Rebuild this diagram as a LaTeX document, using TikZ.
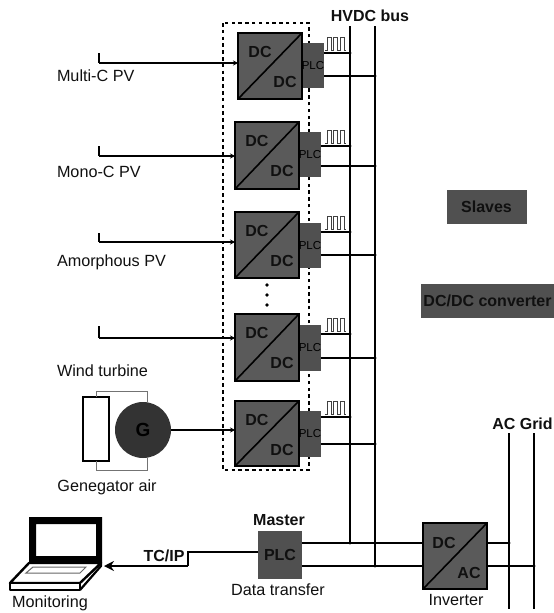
\documentclass[tikz,border=0pt]{standalone}
\usepackage{fontspec}
\setmainfont{Liberation Sans}
\usetikzlibrary{arrows.meta}
\definecolor{boxfill}{HTML}{5A5A5A}
\definecolor{plcfill}{HTML}{505050}
\definecolor{ink}{HTML}{101010}
\tikzset{
  lab/.style={font=\fontsize{16.2}{18}\selectfont,text=ink,inner sep=0pt,outer sep=0pt},
  blab/.style={font=\fontsize{16}{18}\selectfont\bfseries,text=ink,inner sep=0pt,outer sep=0pt},
  plclab/.style={font=\fontsize{11.5}{12}\selectfont,text=black,inner sep=0pt,outer sep=0pt},
  conv/.style={draw=black,line width=2.2pt,fill=boxfill,inner sep=0pt,outer sep=0pt,anchor=north west,minimum width=64pt},
  plcbox/.style={fill=plcfill,inner sep=0pt,outer sep=0pt,anchor=north west,minimum width=22pt},
  solid box/.style={fill=plcfill,inner sep=0pt,outer sep=0pt},
  wire/.style={line width=1.5pt,black},
  bus/.style={line width=1.7pt,black},
  thinwire/.style={line width=0.9pt,black!55},
  wave/.style={line width=0.8pt,black!75,line join=miter},
  tap/.style={fill=black},
  feed/.style={line width=1.4pt,black,-{Stealth[length=5pt,width=5pt]}},
  dotted frame/.style={line width=1.8pt,black,dash pattern=on 3.5pt off 3.3pt},
}
\begin{document}
\begin{tikzpicture}[x=1pt,y=-1pt]
\useasboundingbox (0,0) rectangle (554,613);
% dashed frame
\draw[dotted frame] (223,23) rectangle (309,470);
% buses
\coordinate (busA) at (350,26);
\coordinate (busB) at (375,26);
\coordinate (busAend) at (350,543);
\coordinate (busBend) at (375,566);
\draw[bus] (busA) -- (busAend);
\draw[bus] (busB) -- (busBend);
\coordinate (gridA) at (509,433);
\coordinate (gridB) at (534,433);
\coordinate (gridAend) at (509,609);
\coordinate (gridBend) at (534,609);
\draw[bus] (gridA) -- (gridAend);
\draw[bus] (gridB) -- (gridBend);
% converter rows: index / left / top / height / plc top / plc height / tap1 / tap2 / input
\foreach \i/\xl/\yt/\hh/\pt/\ph/\ta/\tb/\inp in {
  1/238/33/66/43/45/53/76/63,
  2/235/122/67/132/45/146/166/156,
  3/235/212/66/223/45/232/255/242,
  4/235/314/67/325/46/334/358/338,
  5/235/401/65/411/46/417/444/430}{
  \node[plcbox,minimum height=\ph pt] (p\i) at ({\xl+64},\pt) {};
  \node[conv,minimum height=\hh pt] (b\i) at (\xl,\yt) {};
  \draw[line width=1.6pt,black] (b\i.south west) -- (b\i.north east);
  \node[blab] (du\i) at ({\xl+22},{\yt+19}) {DC};
  \node[blab] (dl\i) at ({\xl+47},{\yt+49}) {DC};
  \node[plclab] (pl\i) at (p\i.center) {PLC};
  \coordinate (ta\i) at (350,\ta);
  \coordinate (tb\i) at (375,\tb);
  \draw[wire] (p\i.east |- ta\i) -- (ta\i);
  \draw[wire] (p\i.east |- tb\i) -- (tb\i);
  \fill[tap] (ta\i) circle (1.6pt);
  \fill[tap] (tb\i) circle (1.6pt);
  \draw[wave] (325,{\ta-3}) -- ++(2,0) -- ++(0,-13) -- ++(4,0) -- ++(0,13) -- ++(2.5,0) -- ++(0,-13) -- ++(4,0) -- ++(0,13) -- ++(2.5,0) -- ++(0,-13) -- ++(4,0) -- ++(0,13) -- ++(2,0);
}
% PV inputs
\foreach \i/\st/\inp in {1/53/63,2/146/156,3/233/242,4/326/338}{
  \coordinate (s\i) at (99,\st);
  \coordinate (k\i) at (99,\inp);
  \draw[wire] (s\i) -- (k\i);
  \draw[feed] (k\i) -- (k\i -| b\i.west);
}
% dots
\foreach \yy/\n in {285/v1,295/v2,305/v3}{\fill[black] (267,\yy) circle (1.8pt) coordinate (\n);}
% labels PV
\node[lab,anchor=west] (lm) at (57,76) {Multi-C PV};
\node[lab,anchor=west] (lc) at (57,172) {Mono-C PV};
\node[lab,anchor=west] (la) at (57,262) {Amorphous PV};
\node[lab,anchor=west] (lw) at (57,371) {Wind turbine};
\node[lab] (lg) at (107,487) {Genegator air};
% wind turbine
\node[draw=black,line width=2pt,fill=white,minimum width=26pt,minimum height=64pt,inner sep=0pt,outer sep=0pt] (rotor) at (96,429) {};
\node[circle,fill=black!80,minimum size=56pt,inner sep=0pt,outer sep=0pt] (g) at (143,430) {};
\node[font=\fontsize{19}{20}\selectfont\bfseries,text=black,inner sep=0pt] (gl) at (g.center) {G};
\draw[thinwire] (rotor.north) -- ++(0,-6) -| ([xshift=4pt]g.north);
\draw[thinwire] (rotor.south) -- ++(0,9) -| ([xshift=4pt]g.south);
\draw[feed] (g.east) -- (g.east -| b5.west);
% legend boxes
\node[solid box,minimum width=80pt,minimum height=34pt] (slaves) at (486.5,207) {};
\node[blab] (slavesl) at (slaves.center) {Slaves};
\node[solid box,minimum width=133pt,minimum height=34pt] (dcdc) at (487.5,301) {};
\node[blab] (dcdcl) at (dcdc.center) {DC/DC converter};
% titles
\node[blab] (hv) at (370,16) {HVDC bus};
\node[blab] (acg) at (522.5,424) {AC Grid};
% master
\node[solid box,minimum width=44pt,minimum height=48pt] (master) at (280,555) {};
\node[blab] (masterl) at (master.center) {PLC};
\node[blab] (mt) at (279,520) {Master};
\node[lab] (dt) at (278,590) {Data transfer};
% inverter
\node[conv,minimum height=66pt] (inv) at (423,523) {};
\draw[line width=1.6pt,black] (inv.south west) -- (inv.north east);
\node[blab] (invu) at (444,543) {DC};
\node[blab] (invl) at (469,573) {AC};
\node[lab] (invt) at (456,600) {Inverter};
% master to inverter
\draw[wire] (master.east |- busAend) -- (busAend -| inv.west);
\draw[wire] (master.east |- busBend) -- (busBend -| inv.west);
\fill[tap] (busAend) circle (1.6pt);
\fill[tap] (busBend) circle (1.6pt);
\coordinate (acA) at (509,543);
\coordinate (acB) at (534,566);
\draw[wire] (acA -| inv.east) -- (acA);
\draw[wire] (acB -| inv.east) -- (acB);
\fill[tap] (acA) circle (1.6pt);
\fill[tap] (acB) circle (1.6pt);
% TC/IP
\coordinate (tcA) at (188,552);
\coordinate (tcB) at (188,566);
\coordinate (tcC) at (104,566);
\draw[wire] (master.west |- tcA) -- (tcA) -- (tcB);
\draw[line width=1.8pt,black,-{Stealth[length=10pt,width=10pt]}] (tcB) -- (tcC);
\node[blab] (tc) at (164,556) {TC/IP};
% laptop
\fill[black,even odd rule] (29,517) rectangle (102,563) (36,524) rectangle (96,556);
\draw[line width=2.4pt,black,line join=round,fill=white] (29,563) -- (101,563) -- (80,583) -- (10,583) -- cycle;
\draw[line width=2.4pt,black,line join=round,fill=white] (10,583) -- (80,583) -- (80,590) -- (10,590) -- cycle;
\draw[line width=2.2pt,black,line join=round] (80,590) -- (101,566) -- (101,563);
\draw[line width=1pt,black!60,fill=white] (33,567) -- (86,567) -- (80,573) -- (26,573) -- cycle;
\node[lab] (mon) at (50,603) {Monitoring};
\end{tikzpicture}
\end{document}
